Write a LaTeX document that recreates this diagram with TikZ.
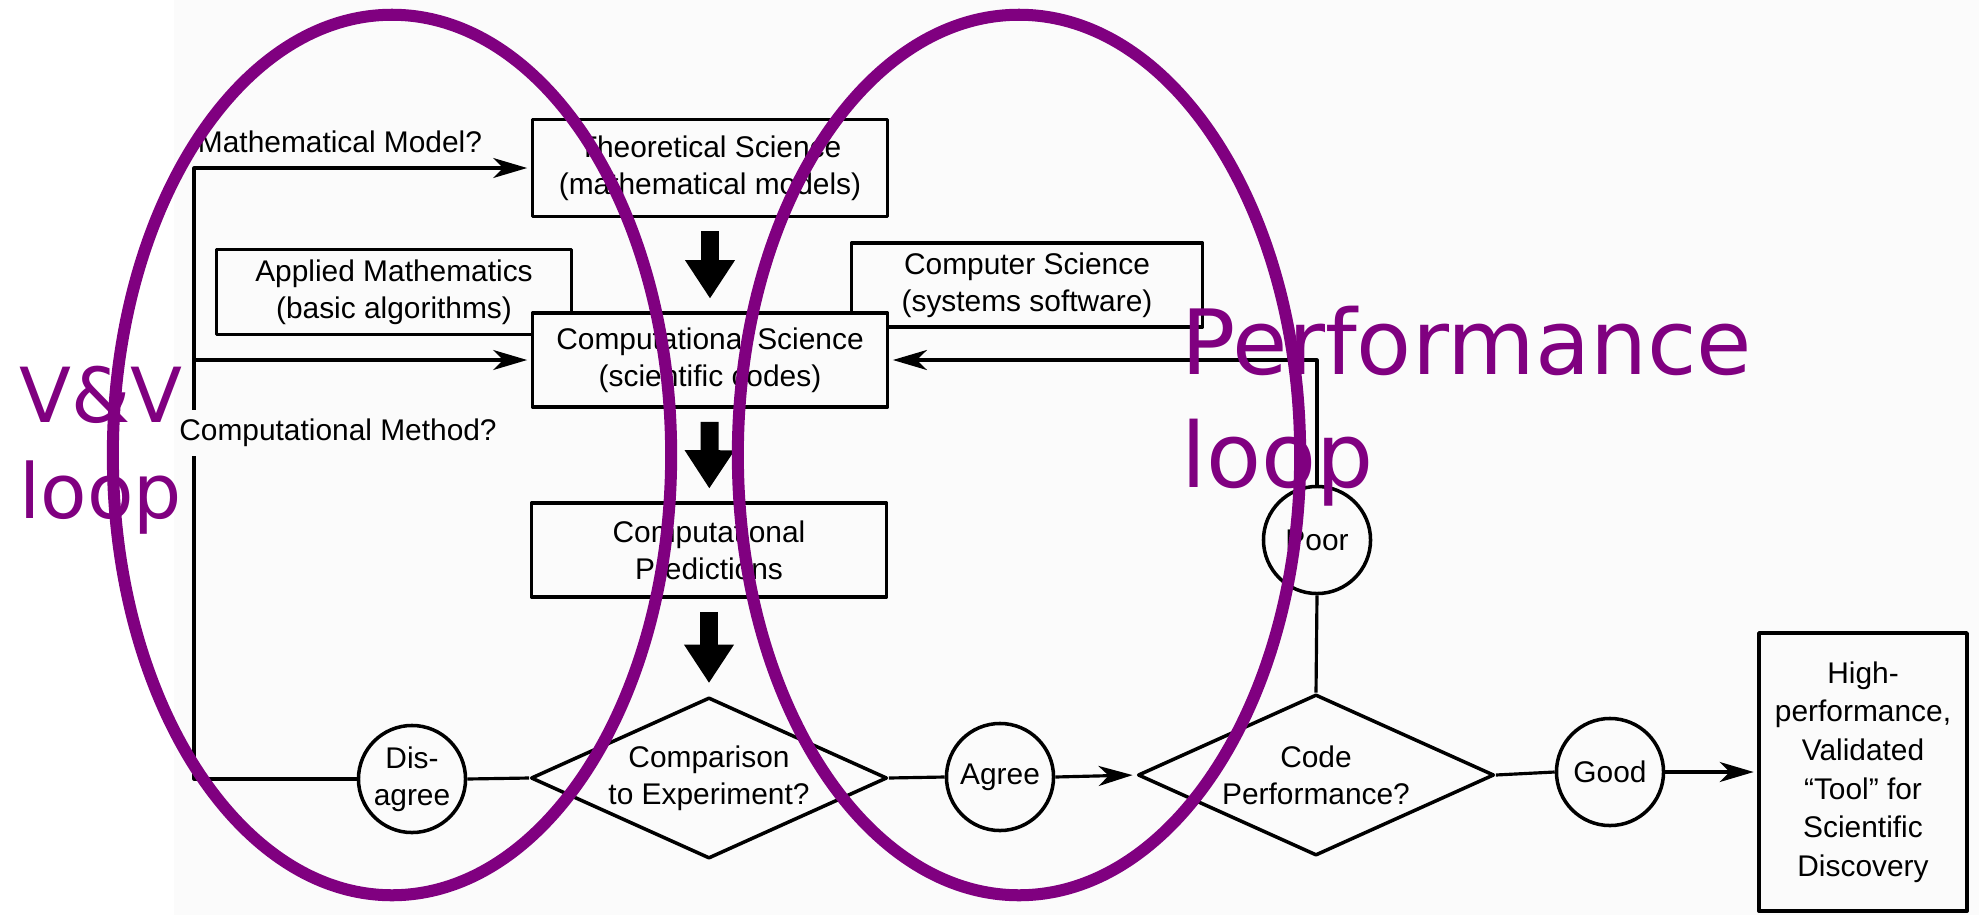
\documentclass[tikz,border=0pt]{standalone}
\usepackage{fontspec}
\setmainfont{Liberation Sans}
\newfontfamily\loopfont{DejaVu Sans}
\usetikzlibrary{arrows.meta,shapes.geometric}
\definecolor{scanbg}{RGB}{251,251,251}
\definecolor{loopc}{RGB}{128,0,128}
\tikzset{
  txt/.style={font=\fontsize{8.5}{10.5}\selectfont},
  box/.style={txt, draw, line width=1pt, fill=scanbg, align=center, minimum width=3.55cm, minimum height=0.94cm, inner sep=1pt},
  decision/.style={txt, draw, line width=1pt, fill=scanbg, shape=diamond, aspect=2.2, minimum width=3.56cm, minimum height=1.61cm, inner sep=0pt, align=center},
  answer/.style={txt, draw, circle, line width=1pt, fill=scanbg, minimum size=1.07cm, inner sep=0.5pt, align=center},
  flow/.style={line width=0.9pt, -{Stealth[length=3.4mm,width=2mm,inset=1mm]}, shorten >=1pt},
  link/.style={line width=0.9pt},
  bigarrow/.style={line width=0.18cm, -{Triangle[width=0.5cm,length=0.38cm,line width=0pt]}, shorten <=0.13cm, shorten >=0.13cm},
  loopline/.style={draw=loopc, line width=0.12cm},
  looptext/.style={text=loopc, align=left, inner sep=0pt, anchor=base west}
}
\begin{document}
\begin{tikzpicture}[x=0.01cm, y=-0.01cm, line join=round]
  \useasboundingbox (0,0) rectangle (1979,915);
  \fill[scanbg] (174,0) rectangle (1979,915);

  % side boxes first, the main box lies on top of them
  \node[box, minimum height=0.85cm] (appl) at (394,292) {Applied Mathematics\\(basic algorithms)};
  \node[box, minimum width=3.51cm, minimum height=0.84cm] (csci) at (1027,285) {Computer Science\\(systems software)};

  \node[box, minimum height=0.97cm] (theo) at (710,168) {Theoretical Science\\(mathematical models)};
  \node[box] (comp) at (710,360) {Computational Science\\(scientific codes)};
  \node[box] (pred) at (709,550) {Computational\\Predictions};

  \node[decision] (cmp) at (709,778) {Comparison\\to Experiment?};
  \node[answer] (dis) at (412,779) {Dis-\\agree};
  \node[answer] (agree) at (1000,777) {Agree};
  \node[decision] (perf) at (1316,775) {Code\\Performance?};
  \node[answer] (poor) at (1317,540) {Poor};
  \node[answer] (good) at (1610,772) {Good};
  \node[box, minimum width=2.08cm, minimum height=2.78cm, font=\fontsize{8.5}{11}\selectfont] (tool) at (1863,772)
    {High-\\performance,\\Validated\\``Tool'' for\\Scientific\\Discovery};

  \draw[bigarrow] (theo) -- (comp);
  \draw[bigarrow] (comp) -- (pred);
  \draw[bigarrow] (pred) -- (cmp);

  % V&V side
  \coordinate (lc) at (194,779);
  \draw[link] (cmp.west) -- (dis.east);
  \draw[flow] (dis.west) -- (lc) |- (theo.west);
  \draw[flow] (lc |- comp.west) -- (comp.west);
  \node[txt, inner sep=1pt] (mm) at (340,142) {Mathematical Model?};
  \node[txt, fill=scanbg, inner xsep=1pt, inner ysep=2.5pt] (cm) at (338,433) {Computational Method?};

  % performance side
  \draw[link] (cmp.east) -- (agree.west);
  \draw[flow] (agree.east) -- (perf.west);
  \draw[link] (perf.north) -- (poor.south);
  \draw[flow] (poor.north) |- (comp.east);
  \draw[link] (perf.east) -- (good.west);
  \draw[flow] (good.east) -- (tool.west);

  % loops
  \draw[loopline] (392,455) ellipse [x radius=2.79cm, y radius=4.40cm];
  \draw[loopline] (1019,455) ellipse [x radius=2.81cm, y radius=4.40cm];
  \node[looptext, font=\loopfont\fontsize{21.6}{27.3}\selectfont] (vv) at (19,518) {V\&V\\loop};
  \node[looptext, font=\loopfont\fontsize{25.6}{32}\selectfont] (pl) at (1181,487) {Performance\\loop};
\end{tikzpicture}
\end{document}
